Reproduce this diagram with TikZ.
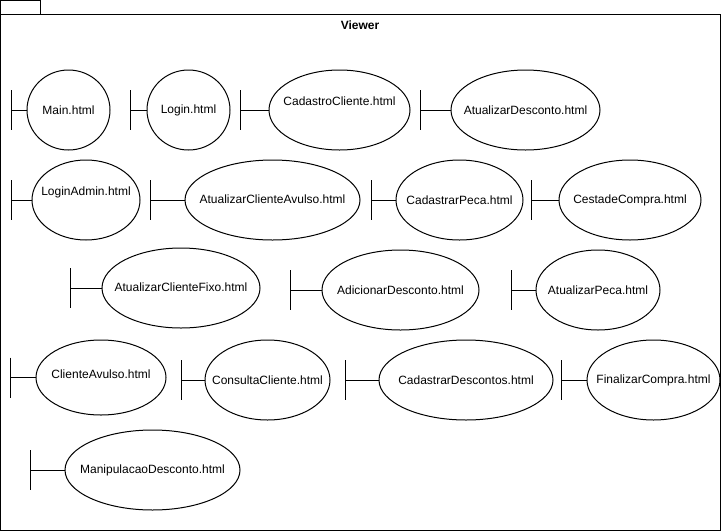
\documentclass[tikz,border=0pt]{standalone}
\usepackage{fontspec}
\setmainfont{Liberation Sans}
\usetikzlibrary{shapes,positioning}

\tikzset{
    boundary/.style={ellipse,draw,line width=1pt,inner sep=0pt},
    bar/.style={line width=1pt}
}

\begin{document}
\begin{tikzpicture}[x=1pt,y=-1pt,font=\fontsize{12}{14}\selectfont]
    \useasboundingbox (0,0) rectangle (721,531);
    % package frame with tab
    \draw[line width=1pt] (0.5,0.5) rectangle (40.5,14.5);
    \draw[line width=1pt] (0.5,14.5) rectangle (720.5,530.5);
    \node[font=\fontsize{12}{14}\selectfont\bfseries] (title) at (360,25) {Viewer};

    % first row
    \node[boundary,minimum width=83,minimum height=80,label=center:Main.html] (main) at (68.5,110) {};
    \coordinate (main-b) at (11,110);
    \node[boundary,minimum width=83,minimum height=80,label=center:Login.html] (login) at (188.5,110) {};
    \coordinate (login-b) at (130.5,110);
    \node[boundary,minimum width=141,minimum height=80,label={[yshift=9pt]center:CadastroCliente.html}] (cadcliente) at (339.5,110) {};
    \coordinate (cadcliente-b) at (240.5,110);
    \node[boundary,minimum width=149,minimum height=80,label=center:AtualizarDesconto.html] (atdesconto) at (525.5,110) {};
    \coordinate (atdesconto-b) at (420.5,110);

    % second row
    \node[boundary,minimum width=108,minimum height=80,label={[yshift=8pt]center:LoginAdmin.html}] (loginadmin) at (86,200) {};
    \coordinate (loginadmin-b) at (11,200);
    \node[boundary,minimum width=175,minimum height=80,label={[yshift=1pt]center:AtualizarClienteAvulso.html}] (atavulso) at (272.5,200) {};
    \coordinate (atavulso-b) at (150.5,200);
    \node[boundary,minimum width=127,minimum height=80,label=center:CadastrarPeca.html] (cadpeca) at (459.5,200) {};
    \coordinate (cadpeca-b) at (371,200);
    \node[boundary,minimum width=142,minimum height=80,label=center:CestadeCompra.html] (cesta) at (630,200) {};
    \coordinate (cesta-b) at (531,200);

    % third row
    \node[boundary,minimum width=158,minimum height=80,label={[yshift=1pt]center:AtualizarClienteFixo.html}] (atfixo) at (181,288) {};
    \coordinate (atfixo-b) at (70.5,288);
    \node[boundary,minimum width=157,minimum height=80,label=center:AdicionarDesconto.html] (adicdesconto) at (400.5,290) {};
    \coordinate (adicdesconto-b) at (290.5,290);
    \node[boundary,minimum width=124,minimum height=80,label=center:AtualizarPeca.html] (atpeca) at (598,290) {};
    \coordinate (atpeca-b) at (511,290);

    % fourth row
    \node[boundary,minimum width=130,minimum height=75,label={[yshift=3pt]center:ClienteAvulso.html}] (avulso) at (101,377.5) {};
    \coordinate (avulso-b) at (10.5,377.5);
    \node[boundary,minimum width=125,minimum height=80,label=center:ConsultaCliente.html] (consulta) at (267.5,380) {};
    \coordinate (consulta-b) at (181,380);
    \node[boundary,minimum width=174,minimum height=80,label=center:CadastrarDescontos.html] (caddescontos) at (466,380) {};
    \coordinate (caddescontos-b) at (345.5,380);
    \node[boundary,minimum width=133,minimum height=80,label=center:FinalizarCompra.html] (finalizar) at (653.5,380) {};
    \coordinate (finalizar-b) at (561,380);

    % last row
    \node[boundary,minimum width=175,minimum height=80,label=center:ManipulacaoDesconto.html] (manipulacao) at (152.5,470) {};
    \coordinate (manipulacao-b) at (30.5,470);

    % boundary bars
    \foreach \n in {main,login,cadcliente,atdesconto,loginadmin,atavulso,cadpeca,cesta,atfixo,adicdesconto,atpeca,avulso,consulta,caddescontos,finalizar,manipulacao} {
        \draw[bar] ([yshift=20pt]\n-b) -- ([yshift=-20pt]\n-b);
        \draw[bar] (\n-b) -- (\n);
    }
\end{tikzpicture}
\end{document}
